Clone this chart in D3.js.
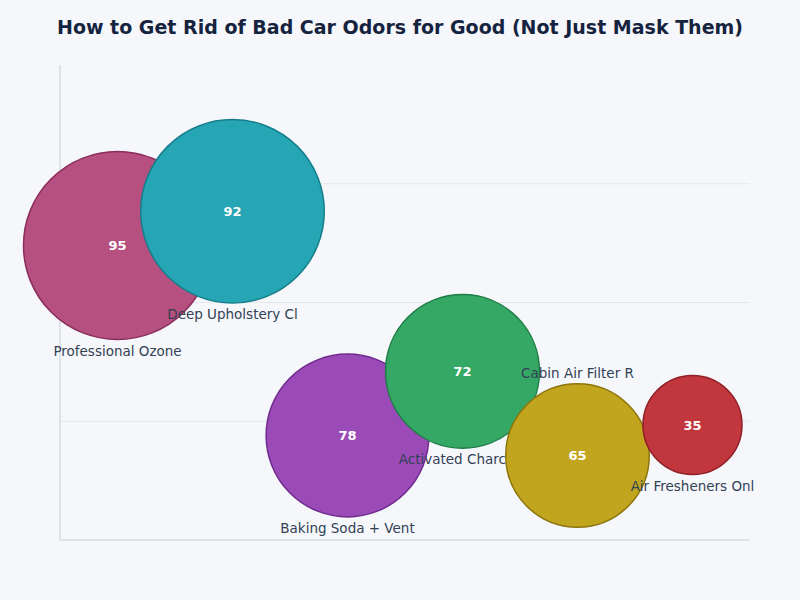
<!DOCTYPE html>
<html>
<head>
<meta charset="utf-8">
<script src="https://cdn.jsdelivr.net/npm/d3@7"></script>
<style>
  body { margin: 0; background: #f5f7fb; }
  .chart { width: 800px; height: 600px; }
</style>
</head>
<body>
<div class="chart"></div>
<script>
// DATA ------------------------------------
const methods = [
  'Professional Ozone Treatment',
  'Deep Upholstery Cleaning',
  'Baking Soda + Ventilation',
  'Activated Charcoal Bags',
  'Cabin Air Filter Replacement',
  'Air Fresheners Only'
];
const effectiveness = [95, 92, 78, 72, 65, 35];
const yValues = [62, 69.2, 22, 35.5, 17.8, 24.2];
const gridTicks = [25, 50, 75];
const fills = ['#b55080', '#26a5b4', '#9b4bb8', '#35a865', '#c2a51e', '#c2363e'];
const strokes = ['#8a2d5c', '#167e8b', '#6f2b8d', '#1f7c45', '#8c760c', '#8f1f26'];

const data = methods.map((m, i) => ({
  name: m,
  value: effectiveness[i],
  y: yValues[i],
  fill: fills[i],
  stroke: strokes[i]
}));

// CHART INIT ------------------------------
const margin = { top: 65, right: 50, bottom: 60, left: 60 };
const width = 800 - margin.left - margin.right;
const height = 600 - margin.top - margin.bottom;

const svg = d3
  .select('.chart')
  .append('svg')
  .attr('width', 800)
  .attr('height', 600)
  .style('font-family', 'DejaVu Sans, sans-serif');

svg
  .append('text')
  .attr('x', 400)
  .attr('y', 34)
  .attr('text-anchor', 'middle')
  .attr('font-size', 19)
  .attr('font-weight', 'bold')
  .attr('fill', '#16233f')
  .text('How to Get Rid of Bad Car Odors for Good (Not Just Mask Them)');

const group = svg
  .append('g')
  .attr('transform', 'translate(' + margin.left + ',' + margin.top + ')');

const xScale = d3.scalePoint().domain(methods).range([0, width]).padding(0.5);
const yScale = d3.scaleLinear().domain([0, 100]).range([height, 0]);
const rScale = d3.scaleLinear().domain(d3.extent(effectiveness)).range([49.5, 94]);

// gridlines
group
  .selectAll('.grid')
  .data(gridTicks)
  .enter()
  .append('line')
  .attr('x1', 0)
  .attr('x2', width)
  .attr('y1', (d) => yScale(d))
  .attr('y2', (d) => yScale(d))
  .attr('stroke', '#e4e7ec')
  .attr('stroke-width', 1);

// axes lines
group.append('line')
  .attr('x1', 0).attr('x2', 0)
  .attr('y1', 0).attr('y2', height)
  .attr('stroke', '#c9cdd3');
group.append('line')
  .attr('x1', 0).attr('x2', width)
  .attr('y1', height).attr('y2', height)
  .attr('stroke', '#c9cdd3');

// bubbles
const bubbles = group
  .selectAll('.bubble')
  .data(data)
  .enter()
  .append('g')
  .attr('class', 'bubble')
  .attr('transform', (d) => 'translate(' + xScale(d.name) + ',' + yScale(d.y) + ')');

bubbles
  .append('circle')
  .attr('r', (d) => rScale(d.value))
  .attr('fill', (d) => d.fill)
  .attr('stroke', (d) => d.stroke)
  .attr('stroke-width', 1.5);

bubbles
  .append('text')
  .attr('y', 4.5)
  .attr('text-anchor', 'middle')
  .attr('font-size', 13)
  .attr('font-weight', 'bold')
  .attr('fill', '#ffffff')
  .text((d) => d.value);

// category label below bubble, or above if it would hit the axis
bubbles
  .append('text')
  .attr('y', (d) => {
    const r = rScale(d.value);
    const below = yScale(d.y) + r + 16;
    return below > height ? -r - 6 : r + 16;
  })
  .attr('text-anchor', 'middle')
  .attr('font-size', 13.5)
  .attr('fill', '#334155')
  .text((d) => d.name.slice(0, 18));
</script>
</body>
</html>
